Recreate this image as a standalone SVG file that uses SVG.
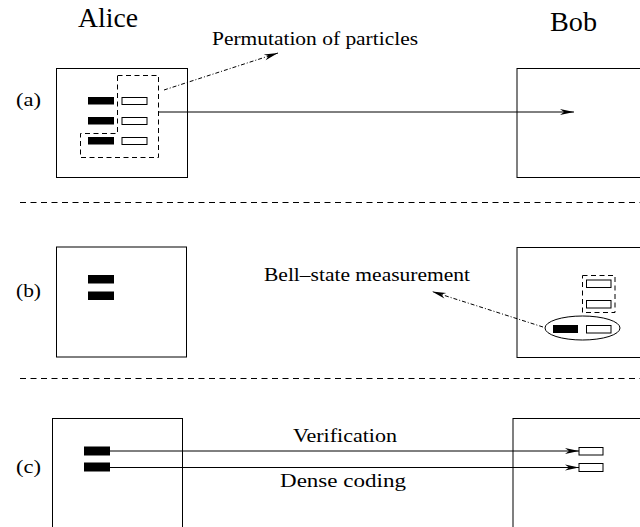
<svg xmlns="http://www.w3.org/2000/svg" width="640" height="527" viewBox="0 0 640 527">
<style>
.box{fill:none;stroke:#000;stroke-width:1}
.blk{fill:#000}
.wht{fill:#fff;stroke:#000;stroke-width:1}
.dash{fill:none;stroke:#000;stroke-width:1;stroke-dasharray:5 3.5}
.sep{fill:none;stroke:#000;stroke-width:1;stroke-dasharray:6 4.5}
.ln{fill:none;stroke:#000;stroke-width:1}
.dd{fill:none;stroke:#000;stroke-width:1;stroke-dasharray:4 2 1 2}
</style>
<defs>
<marker id="ah" markerUnits="userSpaceOnUse" markerWidth="16" markerHeight="10" refX="14" refY="4" orient="auto" overflow="visible">
<path d="M0,1 L14,4 L0,7 L4,4 Z" fill="#000"/>
</marker>
</defs>

<g id="names" font-family="Liberation Serif, serif" fill="#000">
<text font-size="27" x="78" y="27" textLength="60" lengthAdjust="spacingAndGlyphs">Alice</text>
<text font-size="27" x="550" y="31" textLength="47" lengthAdjust="spacingAndGlyphs">Bob</text>
<text font-size="19" x="16" y="106" textLength="25" lengthAdjust="spacingAndGlyphs">(a)</text>
<text font-size="19" x="16" y="297" textLength="25" lengthAdjust="spacingAndGlyphs">(b)</text>
<text font-size="19" x="16" y="473" textLength="25" lengthAdjust="spacingAndGlyphs">(c)</text>
</g>

<g id="separators">
<line class="sep" x1="20" y1="202.5" x2="640" y2="202.5"/>
<line class="sep" x1="20" y1="378.5" x2="640" y2="378.5"/>
</g>

<g id="alice-a">
<rect class="box" x="56.5" y="68.5" width="131" height="109"/>
<rect class="blk" x="88" y="97" width="26" height="7.5"/>
<rect class="blk" x="88" y="117" width="26" height="7.5"/>
<rect class="blk" x="88" y="137" width="26" height="7.5"/>
<rect class="wht" x="122" y="97.5" width="25" height="7"/>
<rect class="wht" x="122" y="117.5" width="25" height="7"/>
<rect class="wht" x="122" y="137.5" width="25" height="7"/>
<path class="dash" d="M117.5,75.5 H158.5 V157.5 H80.5 V133.5 H117.5 Z"/>
</g>

<g id="bob-a">
<rect class="box" x="517" y="68.5" width="140" height="109"/>
</g>

<g id="alice-b">
<rect class="box" x="56.5" y="247" width="130" height="110"/>
<rect class="blk" x="88" y="275" width="26" height="8.5"/>
<rect class="blk" x="88" y="291.5" width="26" height="8.5"/>
</g>

<g id="bob-b">
<rect class="box" x="517" y="247.5" width="140" height="110"/>
<rect class="dash" x="582.5" y="275.5" width="32.5" height="37"/>
<rect class="wht" x="586.5" y="280" width="24.5" height="7.5"/>
<rect class="wht" x="586.5" y="300.5" width="24.5" height="7.5"/>
<ellipse class="box" cx="582.5" cy="328" rx="37.5" ry="12"/>
<rect class="blk" x="553" y="325" width="25" height="8"/>
<rect class="wht" x="586.5" y="325.5" width="24.5" height="7.5"/>
</g>

<g id="alice-c">
<rect class="box" x="52.5" y="418.5" width="130" height="120"/>
<rect class="blk" x="84" y="446.5" width="26" height="9"/>
<rect class="blk" x="84" y="462.5" width="26" height="9"/>
</g>

<g id="bob-c">
<rect class="box" x="513" y="418.5" width="140" height="120"/>
<rect class="wht" x="579" y="447.5" width="24" height="7.5"/>
<rect class="wht" x="579" y="463.5" width="24" height="8"/>
</g>

<g id="connectors">
<line class="ln" x1="158" y1="112" x2="574" y2="112" marker-end="url(#ah)"/>
<line class="dd" x1="164" y1="90" x2="278" y2="53" marker-end="url(#ah)"/>
<line class="dd" x1="543" y1="327" x2="432" y2="291.5" marker-end="url(#ah)"/>
<line class="ln" x1="110" y1="451" x2="579" y2="451" marker-end="url(#ah)"/>
<line class="ln" x1="110" y1="467.5" x2="579" y2="467.5" marker-end="url(#ah)"/>
</g>

<g id="labels" font-family="Liberation Serif, serif" font-size="19" fill="#000">
<text x="212" y="45" textLength="206" lengthAdjust="spacingAndGlyphs">Permutation of particles</text>
<text x="264" y="281" textLength="206" lengthAdjust="spacingAndGlyphs">Bell–state measurement</text>
<text x="293" y="441.5" textLength="104" lengthAdjust="spacingAndGlyphs">Verification</text>
<text x="280" y="487" textLength="126" lengthAdjust="spacingAndGlyphs">Dense coding</text>
</g>
</svg>
